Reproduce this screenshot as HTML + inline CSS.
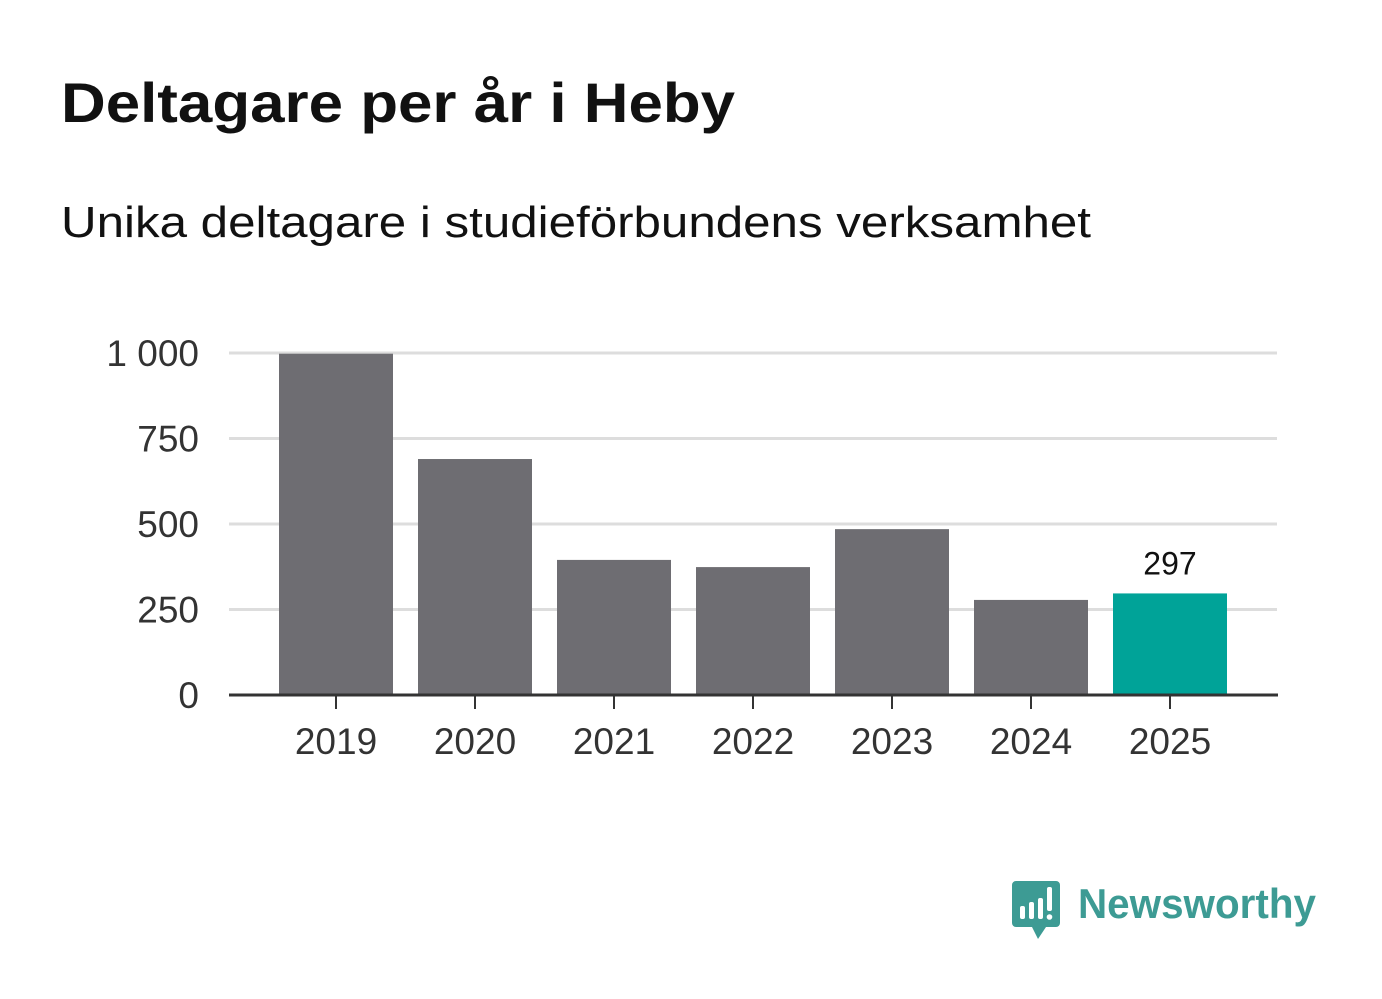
<!DOCTYPE html>
<html><head><meta charset="utf-8"><style>
body{margin:0;background:#fff;font-family:"Liberation Sans",sans-serif;}
#wrap{position:relative;width:1382px;height:999px;overflow:hidden;}
h1{position:absolute;left:61px;top:70px;margin:0;font-size:56px;font-weight:bold;color:#111;transform:scaleX(1.105);transform-origin:0 0;white-space:nowrap}
h2{position:absolute;left:61px;top:198px;margin:0;font-size:44px;font-weight:normal;color:#111;transform:scaleX(1.12);transform-origin:0 0;white-space:nowrap}
</style></head><body>
<div id="wrap">
<h1>Deltagare per år i Heby</h1>
<h2>Unika deltagare i studieförbundens verksamhet</h2>
<svg id="chart" width="1382" height="999" style="position:absolute;left:0;top:0"></svg>
</div>
<script>
const categories=["2019","2020","2021","2022","2023","2024","2025"];
const values=[998,690,395,374,485,278,297];
const yTicks=[0,250,500,750,1000];
const yTickLabels=["0","250","500","750","1 000"];
const highlightLabel="297";
const NS="http://www.w3.org/2000/svg";
const svg=document.getElementById('chart');
const y0=695,yScale=(695-353)/1000;
const y=v=>y0-v*yScale;
const x=i=>336+i*139;
const bw=114;
function mk(t,a){const e=document.createElementNS(NS,t);for(const k in a)e.setAttribute(k,a[k]);svg.appendChild(e);return e;}
yTicks.forEach((t,i)=>{
 if(t>0){const g=mk('line',{x1:229,x2:1277,y1:y(t),y2:y(t),stroke:'#dddddd','stroke-width':3});
 
 }
 const l=mk('text',{x:199,y:y(t)+13,'text-anchor':'end','font-size':37,fill:'#333','font-family':'Liberation Sans, sans-serif'});
 l.textContent=yTickLabels[i];
 
 
});
values.forEach((v,i)=>{
 const last=i===values.length-1;
 const r=mk('rect',{x:x(i)-bw/2,y:y(v),width:bw,height:y0-y(v),fill:last?'#00a398':'#6e6d72'});
 
 
 const tk=mk('line',{x1:x(i),x2:x(i),y1:y0,y2:y0+14,stroke:'#333','stroke-width':2});
 
 
 const l=mk('text',{x:x(i),y:y0+59,'text-anchor':'middle','font-size':37,fill:'#333','font-family':'Liberation Sans, sans-serif'});
 l.textContent=categories[i];
 
 
 if(last){const vl=mk('text',{x:x(i),y:y(v)-19,'text-anchor':'middle','font-size':32,fill:'#111','font-family':'Liberation Sans, sans-serif'});
 vl.textContent=highlightLabel;
 
 }
});
const ax=mk('line',{x1:229,x2:1278,y1:y0,y2:y0,stroke:'#333','stroke-width':3});


const lg=document.createElementNS(NS,'g');


svg.appendChild(lg);
lg.innerHTML='<path d="M1016 881h40a4 4 0 0 1 4 4v38a4 4 0 0 1-4 4h-10l-8 12-6-12h-16a4 4 0 0 1-4-4v-38a4 4 0 0 1 4-4z" fill="#3d9b94"/>'+
'<rect x="1020" y="906" width="5" height="13" rx="2" fill="#fff"/><rect x="1029" y="902" width="5" height="17" rx="2" fill="#fff"/><rect x="1038" y="898" width="5" height="21" rx="2" fill="#fff"/><rect x="1047" y="887" width="5" height="24" rx="2" fill="#fff"/><circle cx="1049.5" cy="917" r="2.8" fill="#fff"/>'+
'<text x="1078" y="918" font-size="42" font-weight="bold" fill="#3d9b94" font-family="Liberation Sans, sans-serif" textLength="238" lengthAdjust="spacingAndGlyphs">Newsworthy</text>';
</script>
</body></html>
